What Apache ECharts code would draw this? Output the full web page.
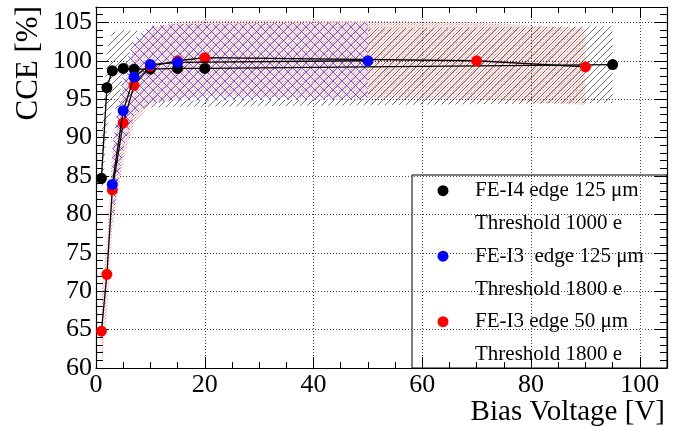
<!DOCTYPE html>
<html><head><meta charset="utf-8">
<script src="https://cdn.jsdelivr.net/npm/echarts@6/dist/echarts.min.js"></script>
<style>html,body{margin:0;padding:0;background:#fff}#c{width:688px;height:430px}</style>
</head><body><div id="c"></div>
<script>
// ---- data ----
const voltI4 = [1, 2, 3, 5, 7, 10, 15, 20, 95];
const cceI4 = [84.7, 96.5, 98.7, 99.0, 98.9, 98.9, 99.0, 99.0, 99.5];
const errI4 = [5, 5, 5, 5, 5, 5, 5, 5, 5];

const voltI3e125 = [3, 5, 7, 10, 15, 50];
const cceI3e125 = [83.9, 93.5, 97.9, 99.5, 99.8, 100.0];
const errI3e125 = [5, 5, 5, 5, 5, 5];

const voltI3e50 = [1, 2, 3, 5, 7, 10, 15, 20, 70, 90];
const cceI3e50 = [64.8, 72.2, 83.2, 91.9, 96.8, 99.3, 100.0, 100.4, 100.0, 99.2];
const errI3e50 = [5, 5, 5, 5, 5, 5, 5, 5, 5, 5];

const seriesNames = ['FE-I4 edge 125 \u03bcm', 'FE-I3  edge 125 \u03bcm', 'FE-I3 edge 50 \u03bcm'];
const thresholds = ['Threshold 1000 e', 'Threshold 1800 e', 'Threshold 1800 e'];
const seriesColors = ['#000000', '#0000ff', '#ff0000'];
const xTicks = [0, 20, 40, 60, 80, 100];
const yTicks = [60, 65, 70, 75, 80, 85, 90, 95, 100, 105];

// ---- patterns ----
function hatch(color, dirs, size, lw, bg) {
  const c = document.createElement('canvas'); c.width = c.height = size;
  const g = c.getContext('2d');
  if (bg) { g.fillStyle = bg; g.fillRect(0, 0, size, size); }
  g.strokeStyle = color; g.lineWidth = lw;
  for (const d of dirs) {
    for (const k of [-size, 0, size]) {
      g.beginPath();
      if (d === '/') { g.moveTo(k, size); g.lineTo(k + size, 0); }
      else { g.moveTo(k, 0); g.lineTo(k + size, size); }
      g.stroke();
    }
  }
  return c;
}
function dots() {
  const c = document.createElement('canvas'); c.width = c.height = 3;
  const g = c.getContext('2d');
  g.fillStyle = 'rgba(255,0,0,0.5)'; g.fillRect(0, 0, 1, 1);
  g.fillStyle = 'rgba(255,0,0,0.3)'; g.fillRect(1, 2, 1, 1); g.fillRect(2, 1, 1, 1);
  return c;
}
const patBlack = { image: hatch('rgba(20,20,20,0.6)', ['/'], 7, 1), repeat: 'repeat' };
const patBlue = { image: hatch('rgba(50,50,255,0.75)', ['/', '\\'], 9, 1, '#ffffff'), repeat: 'repeat' };
const patRed = { image: dots(), repeat: 'repeat' };

function band(xs, ys, es, fill, z) {
  const data = xs.map((x, i) => [x, ys[i] - es[i], ys[i] + es[i]]);
  return {
    type: 'custom', z: z, silent: true, data: data,
    renderItem: function (params, api) {
      if (params.dataIndex !== 0) return null;
      const up = data.map(d => api.coord([d[0], d[2]]));
      const lo = data.map(d => api.coord([d[0], d[1]])).reverse();
      const cs = params.coordSys;
      return {
        type: 'polygon', shape: { points: up.concat(lo) },
        style: { fill: fill, stroke: null },
        clipPath: { type: 'rect', shape: { x: cs.x, y: cs.y, width: cs.width, height: cs.height } }
      };
    }
  };
}
function line(xs, ys, color, z) {
  return {
    type: 'line', z: z, data: xs.map((x, i) => [x, ys[i]]),
    symbol: 'circle', symbolSize: 11, showSymbol: true,
    itemStyle: { color: color },
    lineStyle: { color: '#000', width: 1.3 }, animation: false
  };
}

const font = 'Liberation Serif';
const axisBase = {
  axisLine: { show: true, onZero: false, lineStyle: { color: '#000', width: 1.2 } },
  splitLine: { show: false }
};
const option = {
  animation: false,
  grid: { left: 96, right: 21, top: 7, bottom: 62 },
  xAxis: [
    Object.assign({}, axisBase, {
      type: 'value', min: 0, max: 105, interval: 20, position: 'bottom',
      axisTick: { show: true, inside: true, length: 11, lineStyle: { color: '#000' } },
      minorTick: { show: true, splitNumber: 4, length: 6, lineStyle: { color: '#000' } },
      splitLine: { show: true, lineStyle: { color: '#444', type: [1, 2], width: 1 } },
      axisLabel: { fontFamily: font, fontSize: 26, color: '#000', margin: 4,
        formatter: v => xTicks.includes(v) ? String(v) : '' }
    }),
    Object.assign({}, axisBase, {
      type: 'value', min: 0, max: 105, interval: 20, position: 'top',
      axisTick: { show: true, inside: true, length: 11, lineStyle: { color: '#000' } },
      minorTick: { show: true, splitNumber: 4, length: 6, lineStyle: { color: '#000' } },
      axisLabel: { show: false }
    })
  ],
  yAxis: [
    Object.assign({}, axisBase, {
      type: 'value', min: 60, max: 107, interval: 5, position: 'left',
      axisTick: { show: true, inside: true, length: 13, lineStyle: { color: '#000' } },
      minorTick: { show: true, splitNumber: 5, length: 7, lineStyle: { color: '#000' } },
      splitLine: { show: true, lineStyle: { color: '#444', type: [1, 2], width: 1 } },
      axisLabel: { fontFamily: font, fontSize: 26, color: '#000', margin: 4,
        formatter: v => yTicks.includes(v) ? String(v) : '' }
    }),
    Object.assign({}, axisBase, {
      type: 'value', min: 60, max: 107, interval: 5, position: 'right',
      axisTick: { show: true, inside: true, length: 13, lineStyle: { color: '#000' } },
      minorTick: { show: true, splitNumber: 5, length: 7, lineStyle: { color: '#000' } },
      axisLabel: { show: false }
    })
  ],
  series: [
    band(voltI4, cceI4, errI4, patBlack, 1),
    band(voltI3e125, cceI3e125, errI3e125, patBlue, 2),
    band(voltI3e50, cceI3e50, errI3e50, patRed, 3),
    line(voltI4, cceI4, seriesColors[0], 4),
    line(voltI3e50, cceI3e50, seriesColors[2], 5),
    line(voltI3e125, cceI3e125, seriesColors[1], 6)
  ],
  graphic: [
    { type: 'text', x: 665, y: 412, z: 10,
      style: { text: 'Bias Voltage [V]', font: '29px "Liberation Serif"', fill: '#000', align: 'right', verticalAlign: 'middle' } },
    { type: 'text', x: 29, y: 6, rotation: Math.PI / 2, z: 10,
      style: { text: 'CCE [%]', font: '31px "Liberation Serif"', fill: '#000', align: 'right', verticalAlign: 'middle' } },
    { type: 'group', z: 20, children: [
      { type: 'rect', shape: { x: 412, y: 175, width: 255, height: 193 }, style: { fill: '#fff', stroke: '#000', lineWidth: 1 } },
      ...[0, 1, 2].flatMap(i => [
        { type: 'circle', shape: { cx: 443, cy: 190.7 + i * 65.5, r: 5.5 }, style: { fill: seriesColors[i] } },
        { type: 'text', x: 475, y: 190.7 + i * 65.5, style: { text: seriesNames[i], font: '21px "Liberation Serif"', fill: '#000', verticalAlign: 'middle' } },
        { type: 'text', x: 475, y: 223.5 + i * 65.5, style: { text: thresholds[i], font: '21px "Liberation Serif"', fill: '#000', verticalAlign: 'middle' } }
      ])
    ] }
  ]
};
const chart = echarts.init(document.getElementById('c'), null, { renderer: 'canvas' });
chart.setOption(option);
</script></body></html>
